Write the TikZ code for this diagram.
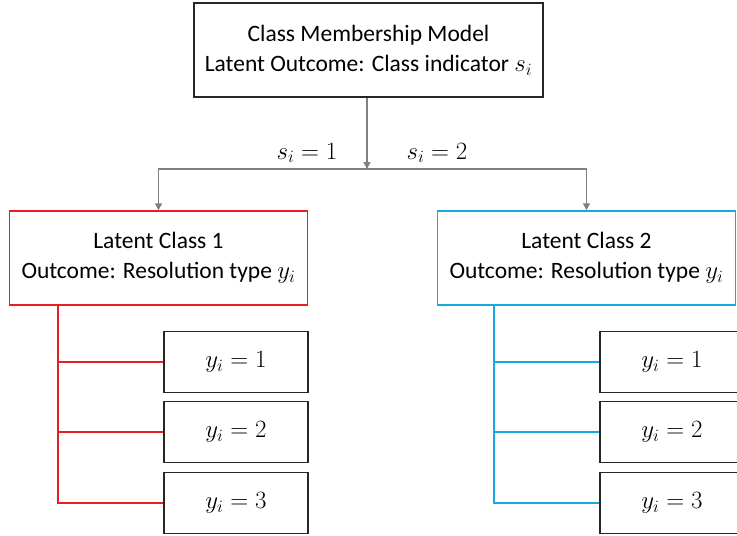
\documentclass[tikz,border=0pt]{standalone}
\usepackage{fontspec}
\setmainfont{Carlito}
\usetikzlibrary{arrows.meta}
\definecolor{lcred}{RGB}{232,30,36}
\definecolor{lcblue}{RGB}{20,170,225}
\definecolor{arrgray}{RGB}{128,128,128}
\definecolor{boxline}{RGB}{38,38,38}
\tikzset{
  box/.style={draw=boxline, line width=1.5pt, align=center, inner sep=0pt, font=\fontsize{23.5}{30}\selectfont},
  bigbox/.style={box, minimum width=349pt, minimum height=94pt},
  classbox/.style={box, minimum width=298pt, minimum height=94pt},
  smallbox/.style={box, minimum width=144pt, minimum height=61pt, font=\fontsize{26}{30}\selectfont},
  garrow/.style={draw=arrgray, line width=1.5pt, -{Triangle[width=7pt,length=7pt]}},
  colline/.style={line width=1.5pt},
  lbl/.style={font=\fontsize{26}{30}\selectfont, inner sep=0pt}
}
\begin{document}
\begin{tikzpicture}[x=1pt,y=-1pt]
\useasboundingbox (0,0) rectangle (737,536);
\node[bigbox] (top) at (368.5,50) {Class Membership Model\\Latent Outcome: Class indicator $s_i$};
\node[classbox, draw=lcred] (lc1) at (158.5,258) {Latent Class 1\\Outcome: Resolution type $y_i$};
\node[classbox, draw=lcblue] (lc2) at (586.5,258) {Latent Class 2\\Outcome: Resolution type $y_i$};
\node[smallbox] (a1) at (236,362) {$y_i = 1$};
\node[smallbox] (a2) at (236,432) {$y_i = 2$};
\node[smallbox] (a3) at (236,503) {$y_i = 3$};
\node[smallbox] (b1) at (672,362) {$y_i = 1$};
\node[smallbox] (b2) at (672,432) {$y_i = 2$};
\node[smallbox] (b3) at (672,503) {$y_i = 3$};
\coordinate (jn) at (367,169);
\coordinate (sp1) at (58,305);
\coordinate (sp2) at (494,305);
\draw[garrow] (top.south -| jn) -- (jn);
\draw[garrow] (jn) -| (lc1.north);
\draw[garrow] (jn) -| (lc2.north);
\node[lbl] (l1) at (307,153) {$s_i = 1$};
\node[lbl] (l2) at (437,153) {$s_i = 2$};
\draw[colline, lcred] (sp1) |- (a3.west);
\draw[colline, lcred] (a1.west) -- (a1.west -| sp1);
\draw[colline, lcred] (a2.west) -- (a2.west -| sp1);
\draw[colline, lcblue] (sp2) |- (b3.west);
\draw[colline, lcblue] (b1.west) -- (b1.west -| sp2);
\draw[colline, lcblue] (b2.west) -- (b2.west -| sp2);
\end{tikzpicture}
\end{document}
